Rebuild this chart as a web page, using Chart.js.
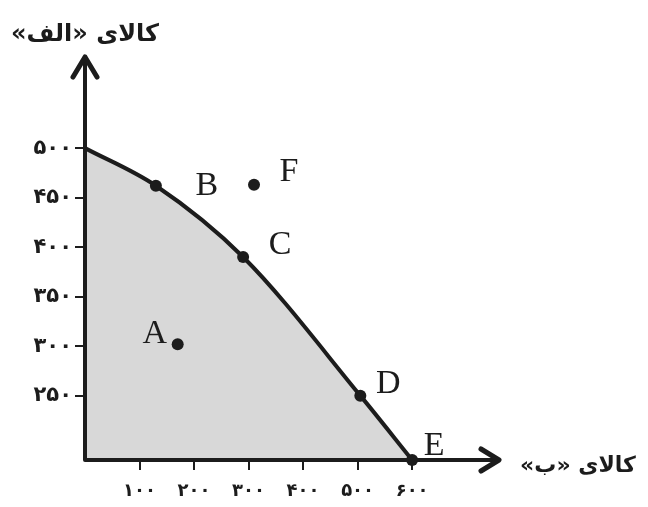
<!DOCTYPE html>
<html>
<head>
<meta charset="utf-8">
<script src="https://cdn.jsdelivr.net/npm/chart.js@4/dist/chart.umd.min.js"></script>
<style>
body { margin: 0; background: #fff; }
</style>
</head>
<body>
<canvas id="ppf" width="648" height="507"></canvas>
<script>
// axis titles
var goodATitle = 'کالای «الف»';
var goodBTitle = 'کالای «ب»';

// production possibilities curve (first point has no letter)
var curveNames = ['', 'B', 'C', 'D', 'E'];
var curveX = [0, 130, 290, 505, 600];
var curveY = [500, 462, 390, 250, 0];

// points off the curve
var pointNames = ['F', 'A'];
var pointX = [310, 170];
var pointY = [463, 302];

var xTicks = [100, 200, 300, 400, 500, 600];
var yTicks = [250, 300, 350, 400, 450, 500];

// the vertical axis is broken: its bottom line stands for zero
var Y_MIN = 185;
var Y_MAX = 588;
var X_MAX = 752;

var ink = '#1c1c1c';
var labelOffset = { B: [51, 0], C: [37, -12], D: [28, -12], E: [22, -14], F: [35, -13], A: [-23, -10] };

function toFa(n) {
    var d = '۰۱۲۳۴۵۶۷۸۹';
    return String(n).replace(/[0-9]/g, function(c){ return d[+c]; });
}

function curveData() {
    var out = [];
    for (var i = 0; i < curveX.length; i++) {
        out.push({ x: curveX[i], y: Math.max(curveY[i], Y_MIN) });
    }
    return out;
}

function pointData() {
    var out = [];
    for (var i = 0; i < pointX.length; i++) {
        out.push({ x: pointX[i], y: pointY[i] });
    }
    return out;
}

var ppfDecor = {
    id: 'ppfDecor',
    afterDatasetsDraw: function(chart) {
        var ctx = chart.ctx;
        var a = chart.chartArea;
        ctx.save();
        ctx.strokeStyle = ink;
        ctx.lineWidth = 4;
        ctx.lineCap = 'round';
        ctx.lineJoin = 'round';

        // axes with arrow heads
        ctx.beginPath();
        ctx.moveTo(a.left, a.top - 3);
        ctx.lineTo(a.left, a.bottom);
        ctx.lineTo(a.right + 2, a.bottom);
        ctx.stroke();
        ctx.lineWidth = 5;
        ctx.beginPath();
        ctx.moveTo(a.left - 12, a.top + 16);
        ctx.lineTo(a.left, a.top - 4);
        ctx.lineTo(a.left + 12, a.top + 16);
        ctx.moveTo(a.right - 14, a.bottom - 11);
        ctx.lineTo(a.right + 4, a.bottom);
        ctx.lineTo(a.right - 14, a.bottom + 11);
        ctx.stroke();

        // axis titles
        ctx.fillStyle = ink;
        ctx.direction = 'rtl';
        ctx.textAlign = 'center';
        ctx.textBaseline = 'middle';
        ctx.font = 'bold 24px "DejaVu Sans"';
        ctx.fillText(goodATitle, a.left, 35);
        ctx.font = 'bold 22px "DejaVu Sans"';
        ctx.fillText(goodBTitle, a.right + 83, a.bottom + 6);

        // point letters
        ctx.direction = 'ltr';
        ctx.font = '34px "Liberation Serif"';
        var meta = chart.getDatasetMeta(0);
        for (var i = 0; i < curveNames.length; i++) {
            var n = curveNames[i];
            if (!n) continue;
            var el = meta.data[i];
            ctx.fillText(n, el.x + labelOffset[n][0], el.y + labelOffset[n][1]);
        }
        meta = chart.getDatasetMeta(1);
        for (var j = 0; j < pointNames.length; j++) {
            var p = pointNames[j];
            var e = meta.data[j];
            ctx.fillText(p, e.x + labelOffset[p][0], e.y + labelOffset[p][1]);
        }
        ctx.restore();
    }
};

new Chart(document.getElementById('ppf'), {
    type: 'scatter',
    data: {
        datasets: [{
            data: curveData(),
            order: 2,
            showLine: true,
            fill: 'start',
            backgroundColor: '#d8d8d8',
            borderColor: ink,
            borderWidth: 4,
            cubicInterpolationMode: 'monotone',
            pointRadius: [0, 6, 6, 6, 6],
            pointBackgroundColor: ink,
            pointBorderWidth: 0,
            clip: false
        }, {
            data: pointData(),
            order: 1,
            showLine: false,
            pointRadius: 6,
            pointBackgroundColor: ink,
            pointBorderWidth: 0,
            clip: false
        }]
    },
    options: {
        responsive: false,
        animation: false,
        devicePixelRatio: 1,
        layout: { padding: { left: 0, right: 153, top: 61, bottom: 0 } },
        plugins: { legend: { display: false }, tooltip: { enabled: false } },
        scales: {
            x: {
                type: 'linear',
                min: 0,
                max: X_MAX,
                afterBuildTicks: function(scale) {
                    scale.ticks = xTicks.map(function(v){ return { value: v }; });
                },
                afterFit: function(scale) { scale.height = 47; },
                border: { display: false },
                grid: { drawOnChartArea: false, drawTicks: true, tickLength: 10, color: ink, lineWidth: 2 },
                ticks: {
                    padding: 11,
                    color: ink,
                    font: { family: 'DejaVu Sans', size: 18, weight: 'bold' },
                    callback: function(v){ return toFa(v); }
                }
            },
            y: {
                type: 'linear',
                min: Y_MIN,
                max: Y_MAX,
                afterBuildTicks: function(scale) {
                    scale.ticks = yTicks.map(function(v){ return { value: v }; });
                },
                afterFit: function(scale) { scale.width = 85; },
                border: { display: false },
                grid: { drawOnChartArea: false, drawTicks: true, tickLength: 10, color: ink, lineWidth: 2 },
                ticks: {
                    padding: 3,
                    color: ink,
                    font: { family: 'DejaVu Sans', size: 21, weight: 'bold' },
                    callback: function(v){ return toFa(v); }
                }
            }
        }
    },
    plugins: [ppfDecor]
});
</script>
</body>
</html>
